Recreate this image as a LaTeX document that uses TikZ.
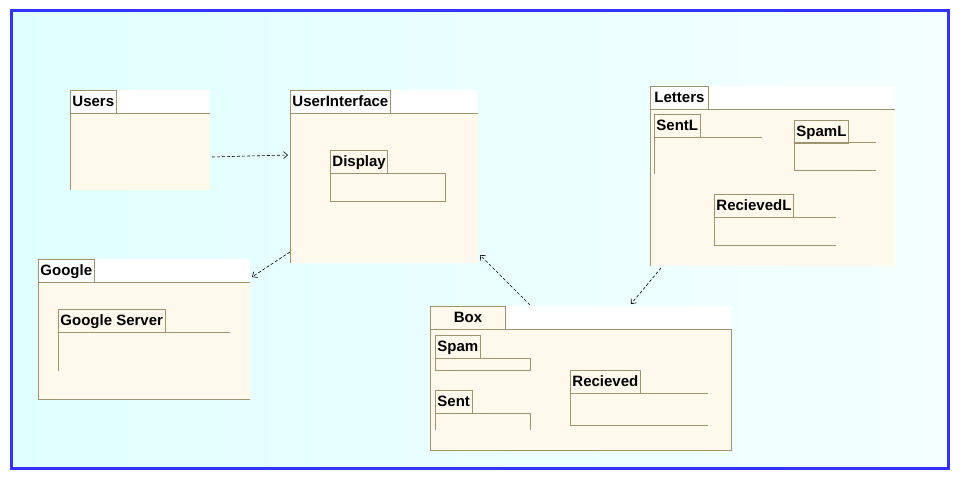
\documentclass[tikz,border=0pt]{standalone}
\usepackage{fontspec}
\setmainfont{Liberation Sans}
\usetikzlibrary{arrows.meta}
\definecolor{borde}{HTML}{A09470}
\definecolor{crema}{HTML}{FFF8EC}
\definecolor{marco}{HTML}{3333FF}
\definecolor{fondoA}{HTML}{E0FFFF}
\definecolor{fondoB}{HTML}{F4FFFF}
\begin{document}
\begin{tikzpicture}[x=1pt,y=-1pt,
	linea/.style={draw=borde, line width=0.9pt},
	tab/.style={draw=borde, line width=0.9pt, anchor=north west, inner xsep=2pt, inner ysep=0pt,
		minimum height=23pt, text height=10.5pt, text depth=1pt,
		font=\bfseries\fontsize{15}{15}\selectfont},
	dep/.style={densely dashed, line width=0.6pt, -{Straight Barb[length=4pt,width=7pt]}}]
		%Tamano
		\useasboundingbox (0,0) rectangle (970,486);
		
		%Fondo y marco
		\shade[left color=fondoA, right color=fondoB] (11,11) rectangle (948,468);
		\draw[marco, line width=3pt] (11,11) rectangle (948,468);
		
		%Users
		\fill[white] (70,90) rectangle (210,113);
		\fill[crema] (70,113) rectangle (210,190);
		\draw[linea] (70,190) -- (70,113) -- (210,113);
		\node[tab, fill=white] (users) at (70,90) {Users};
		
		%UserInterface
		\fill[white] (290,90) rectangle (478,113);
		\fill[crema] (290,113) rectangle (478,263);
		\draw[linea] (290,263) -- (290,113) -- (478,113);
		\node[tab, fill=white] (ui) at (290,90) {UserInterface};
		\node[tab] (display) at (330,150) {Display};
		\draw[linea] (330,173) rectangle (445,201);
		
		%Google
		\fill[white] (38,259) rectangle (250,282);
		\fill[crema] (38,282) rectangle (250,399);
		\draw[linea] (250,399) -- (38,399) -- (38,282) -- (250,282);
		\node[tab, fill=white] (google) at (38,259) {Google};
		\node[tab] (gserver) at (58,309) {Google Server};
		\draw[linea] (58,371) -- (58,332) -- (230,332);
		
		%Box
		\fill[white] (430,306) rectangle (731,329);
		\filldraw[linea, fill=crema] (430,329) rectangle (731,450);
		\node[tab, fill=crema, minimum width=75pt] (box) at (430,306) {Box};
		\node[tab] (spam) at (435,335) {Spam};
		\draw[linea] (435,358) rectangle (530,370);
		\node[tab] (sent) at (435,390) {Sent};
		\draw[linea] (435,430) -- (435,413) -- (530,413) -- (530,430);
		\node[tab] (recieved) at (570,370) {Recieved};
		\draw[linea] (708,393) -- (570,393) -- (570,425) -- (708,425);
		
		%Letters
		\fill[white] (650,86) rectangle (895,109);
		\fill[crema] (650,109) rectangle (895,266);
		\draw[linea] (650,266) -- (650,109) -- (895,109);
		\node[tab, fill=white, inner xsep=4pt] (letters) at (650,86) {Letters};
		\node[tab] (sentl) at (654,114) {SentL};
		\draw[linea] (654,174) -- (654,137) -- (762,137);
		\node[tab] (spaml) at (794,120) {SpamL};
		\draw[linea] (876,142) -- (794,142) -- (794,170) -- (876,170);
		\node[tab] (recievedl) at (714,194) {RecievedL};
		\draw[linea] (836,217) -- (714,217) -- (714,245) -- (836,245);
		
		%Dependencias
		\coordinate (users-der) at (212,157);
		\coordinate (ui-izq) at (288,155);
		\coordinate (ui-bajo) at (290,252);
		\coordinate (google-der) at (252,277);
		\coordinate (box-arriba) at (530,305);
		\coordinate (ui-esq) at (480,255);
		\coordinate (letters-bajo) at (661,268);
		\coordinate (box-der) at (631,304);
		\draw[dep] (users-der) -- (ui-izq);
		\draw[dep] (ui-bajo) -- (google-der);
		\draw[dep] (box-arriba) -- (ui-esq);
		\draw[dep] (letters-bajo) -- (box-der);
	
	\end{tikzpicture}
\end{document}
